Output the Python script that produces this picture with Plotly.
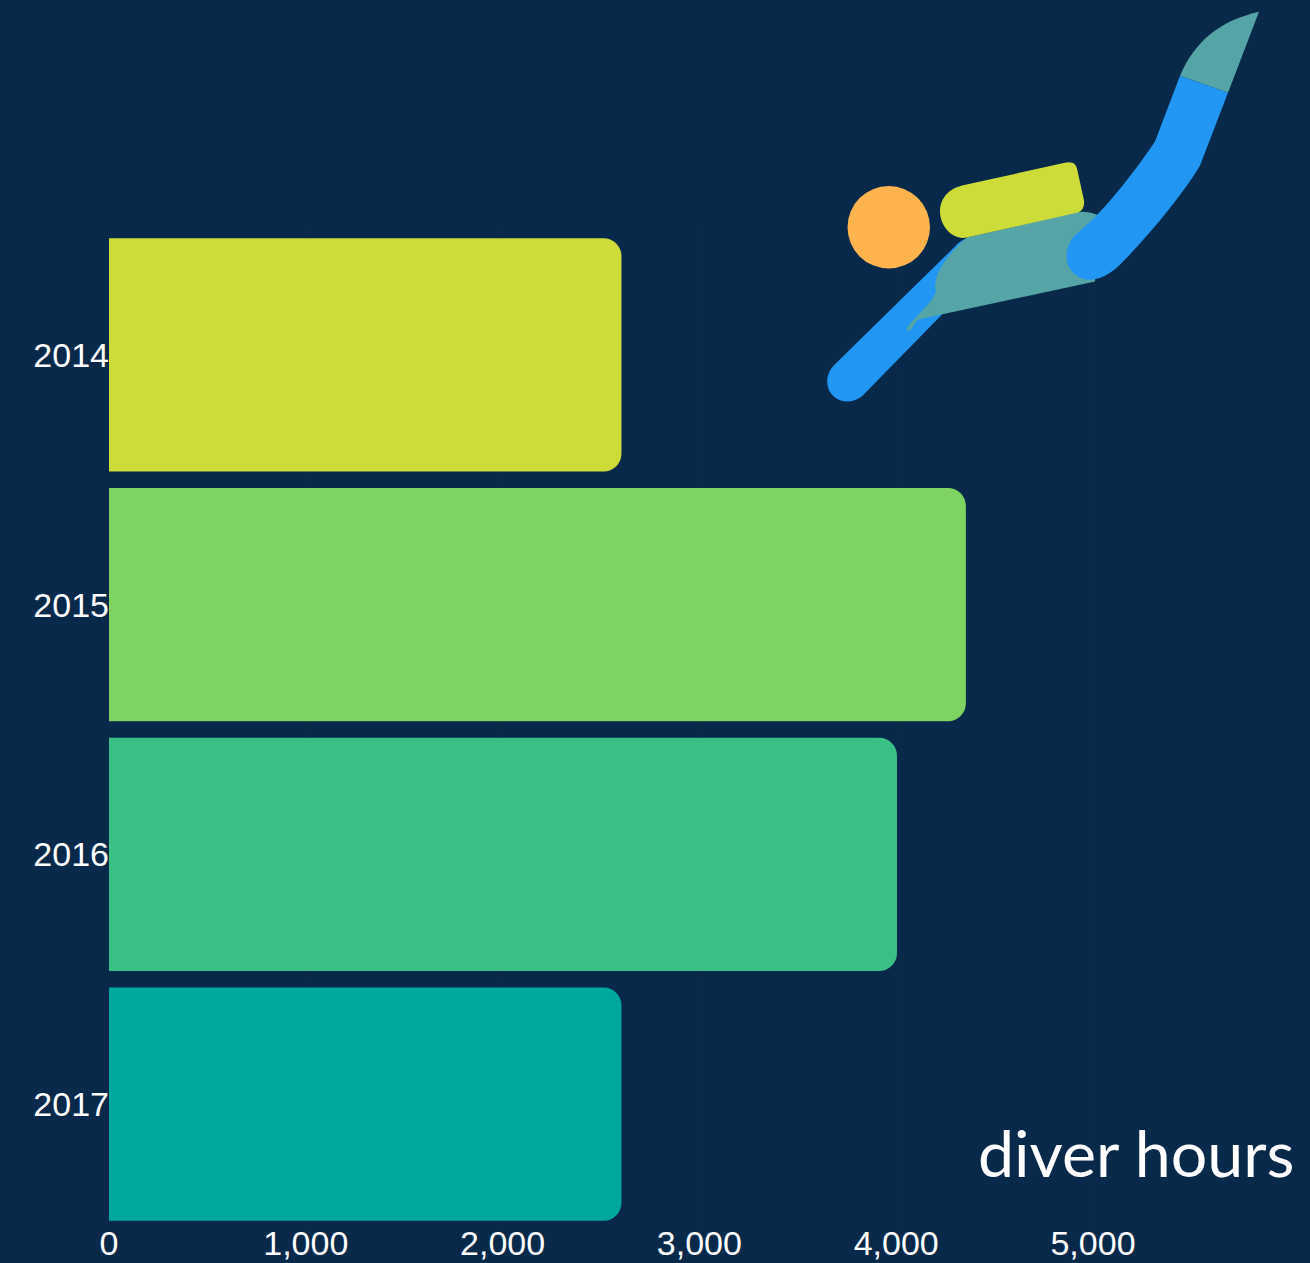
import re
import plotly.graph_objects as go

# ---- data ----
years = ["2014", "2015", "2016", "2017"]
diver_hours = [2604, 4354, 4004, 2604]
bar_colors = ["#CDDC39", "#7FD361", "#3AC085", "#00A99F"]
x_ticks = [0, 1000, 2000, 3000, 4000, 5000]

# ---- page geometry ----
W, H = 1310, 1263
L, R, T, B = 109, 1291, 229.5, 1229.5
BG = "#08294A"
GRID = "#112B46"


def px(x):
    return (x - L) / (R - L)


def py(y):
    return (B - y) / (B - T)


def to_paper(path):
    return re.sub(
        r"(-?[\d.]+),(-?[\d.]+)",
        lambda m: f"{px(float(m.group(1))):.5f},{py(float(m.group(2))):.5f}",
        path,
    )


# ---- decorative diver illustration (pixel outlines) ----
diver = [
    ("#2196F3", "M835,364 L955,246 Q960,240 968,237 L960,300 L943,313 L862,396 "
                "C850,405 835,402 829,390 C825,380 828,371 835,364 Z"),
    ("#56A5A6", "M967,237 L1075,212 C1083,210 1092,212 1099,215 L1095,281 L918,319 "
                "C915,322 913,327 910,330 C908,331 906,329 907,327 C915,316 932,303 936,291 "
                "C934,285 936,280 937,275 C942,262 955,247 967,237 Z"),
    ("#56A5A6", "M1180,75 C1195,40 1220,20 1259,11 L1228,92 Z"),
    ("#2196F3", "M1180,75 L1155,141 C1130,178 1100,215 1077,233 C1063,245 1063,268 1078,276 "
                "C1090,283 1105,278 1118,266 C1131,254 1176,205 1200,165 L1228,92 Z"),
    ("#CDDC39", "M962,185 L1066,162 Q1075,160 1077,168 L1084,200 Q1085,209 1078,212 L967,237 "
                "C952,240 940,225 940,211 C940,197 950,188 962,185 Z"),
]
shapes = [
    dict(type="path", xref="paper", yref="paper", path=to_paper(p),
         fillcolor=c, line=dict(width=0), layer="above")
    for c, p in diver
]
shapes.append(dict(type="circle", xref="paper", yref="paper",
                   x0=px(847.5), x1=px(930), y0=py(268), y1=py(185.5),
                   fillcolor="#FFB34F", line=dict(width=0), layer="above"))

fig = go.Figure(
    go.Bar(
        y=years,
        x=diver_hours,
        orientation="h",
        marker=dict(color=bar_colors, line=dict(width=0)),
        hoverinfo="x+y",
    )
)

fig.update_layout(
    width=W,
    height=H,
    autosize=False,
    margin=dict(l=L, r=W - R, t=T, b=H - B, pad=0),
    paper_bgcolor=BG,
    plot_bgcolor=BG,
    bargap=0.066,
    barcornerradius=18,
    showlegend=False,
    font=dict(family="Liberation Sans", color="white", size=34),
    shapes=shapes,
    annotations=[
        dict(
            text="diver hours",
            xref="paper", yref="paper",
            x=px(1295.5), y=py(1152),
            xanchor="right", yanchor="middle",
            showarrow=False,
            font=dict(family="Lato", size=64.5, color="white"),
        )
    ],
)
fig.update_xaxes(
    automargin=False,
    range=[0, (R - L) / 196.8 * 1000],
    tickvals=x_ticks,
    tickformat=",",
    ticklabelstandoff=-9,
    showgrid=True,
    gridcolor=GRID,
    gridwidth=1,
    zeroline=False,
    showline=False,
    ticks="",
)
fig.update_yaxes(
    automargin=False,
    type="category",
    autorange="reversed",
    ticklabelstandoff=-1,
    showgrid=False,
    zeroline=False,
    showline=False,
    ticks="",
)

fig.write_html(
    "out.html",
    config=dict(displayModeBar=False),
    post_script="document.documentElement.style.background='%s';"
                "document.body.style.margin='0';document.body.style.background='%s';" % (BG, BG),
)
